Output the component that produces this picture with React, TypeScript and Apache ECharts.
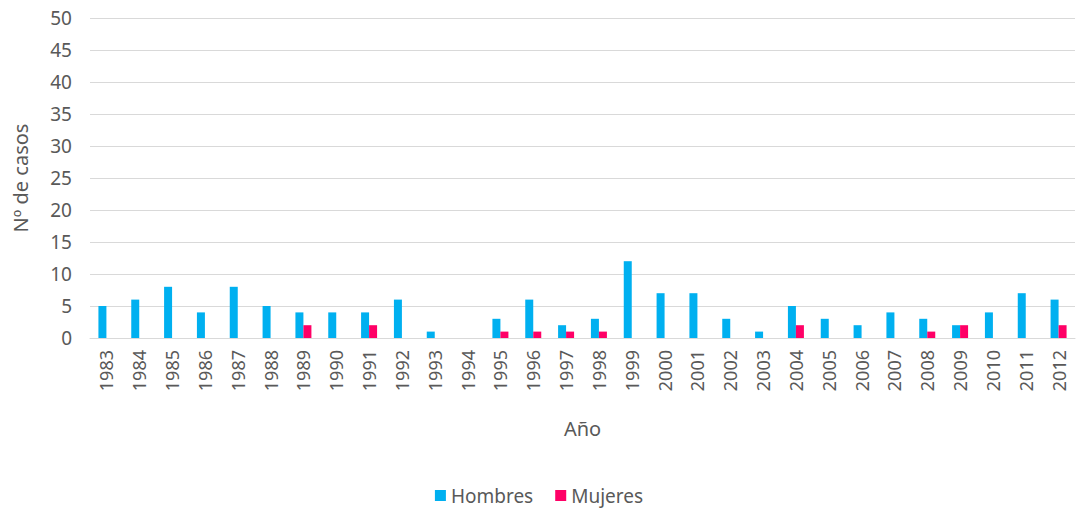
import React, { useEffect, useRef } from "react";
import * as echarts from "echarts";

const years = ["1983","1984","1985","1986","1987","1988","1989","1990","1991","1992","1993","1994","1995","1996","1997","1998","1999","2000","2001","2002","2003","2004","2005","2006","2007","2008","2009","2010","2011","2012"];
const hombres = [5,6,8,4,8,5,4,4,4,6,1,0,3,6,2,3,12,7,7,3,1,5,3,2,4,3,2,4,7,6];
const mujeres = [0,0,0,0,0,0,2,0,2,0,0,0,1,1,1,1,0,0,0,0,0,2,0,0,0,1,2,0,0,2];

const FONT = "'Noto Sans', 'Open Sans', sans-serif";
const TXT = "#595959";

export default function App() {
  const ref = useRef<HTMLDivElement>(null);
  useEffect(() => {
    if (!ref.current) return;
    const chart = echarts.init(ref.current, undefined, { renderer: "svg" });
    chart.setOption({
      animation: false,
      backgroundColor: "#ffffff",
      textStyle: { fontFamily: FONT },
      grid: { left: 90, right: 3, top: 18, bottom: 175, containLabel: false },
      legend: {
        bottom: 3,
        left: "center",
        itemWidth: 11,
        itemHeight: 11,
        itemGap: 22,
        icon: "rect",
        textStyle: { color: TXT, fontSize: 19, fontFamily: FONT },
        data: ["Hombres", "Mujeres"],
      },
      xAxis: {
        type: "category",
        data: years,
        name: "Año",
        nameLocation: "middle",
        nameGap: 80,
        nameTextStyle: { color: TXT, fontSize: 20, fontFamily: FONT },
        axisLine: { show: true, lineStyle: { color: "#d9d9d9", width: 1 } },
        axisTick: { show: false },
        axisLabel: { rotate: 90, color: TXT, fontSize: 18, margin: 12, fontFamily: FONT },
      },
      yAxis: {
        type: "value",
        min: 0,
        max: 50,
        interval: 5,
        name: "Nº de casos",
        nameLocation: "middle",
        nameGap: 60,
        nameRotate: 90,
        nameTextStyle: { color: TXT, fontSize: 20, fontFamily: FONT },
        axisLine: { show: false },
        axisTick: { show: false },
        axisLabel: { color: TXT, fontSize: 19, margin: 18, fontFamily: FONT },
        splitLine: { lineStyle: { color: "#d9d9d9", width: 1 } },
      },
      series: [
        {
          name: "Hombres",
          type: "bar",
          data: hombres,
          itemStyle: { color: "#00b0f0" },
          barWidth: 8,
          barGap: "0%",
        },
        {
          name: "Mujeres",
          type: "bar",
          data: mujeres,
          itemStyle: { color: "#ff0066" },
          barWidth: 8,
          barGap: "0%",
        },
      ],
    });
    return () => chart.dispose();
  }, []);
  return (
    <div
      ref={ref}
      style={{ position: "fixed", left: 0, top: 0, width: 1078, height: 513, background: "#fff" }}
    />
  );
}
